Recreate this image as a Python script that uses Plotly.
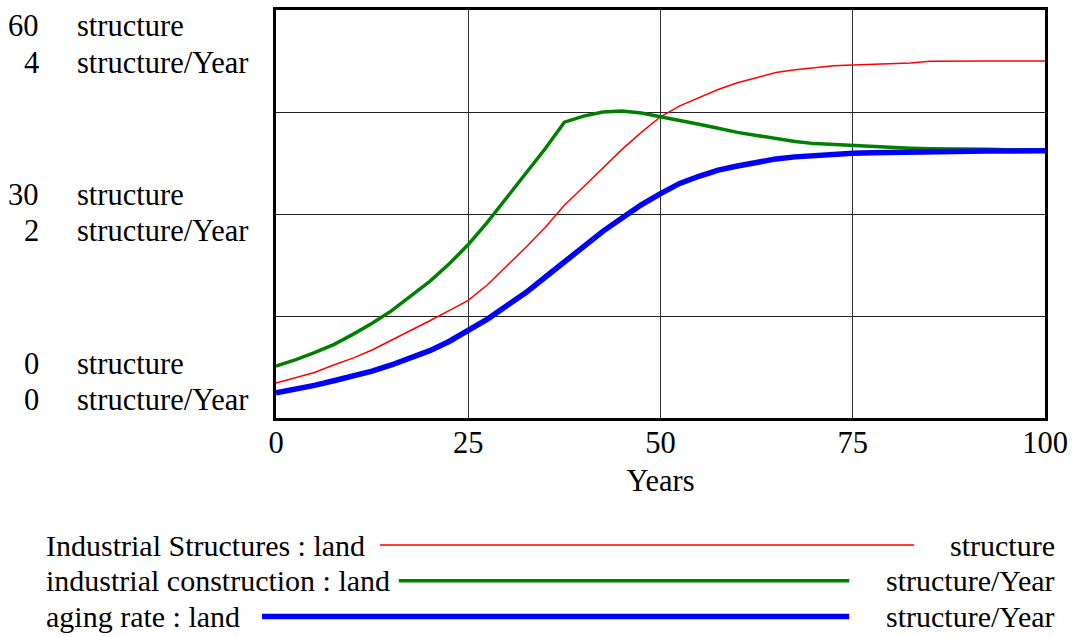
import plotly.graph_objects as go

years = [i * 2.5 for i in range(41)]

industrial_structures = [5.15, 5.9, 6.7, 7.8, 8.8, 10.0, 11.4, 12.8, 14.3, 15.8,
                         17.3, 19.6, 22.3, 25.1, 28.0, 31.3, 34.0, 36.8, 39.5, 42.0,
                         44.3, 45.9, 47.1, 48.3, 49.3, 50.1, 50.8, 51.2, 51.5, 51.8,
                         51.9, 52.0, 52.1, 52.2, 52.45, 52.5, 52.5, 52.5, 52.5, 52.5, 52.5]

industrial_construction = [0.51, 0.57, 0.64, 0.72, 0.82, 0.93, 1.05, 1.19, 1.34, 1.51,
                           1.70, 1.92, 2.16, 2.39, 2.64, 2.90, 2.96, 3.00, 3.01, 2.99,
                           2.955, 2.92, 2.88, 2.84, 2.80, 2.77, 2.74, 2.71, 2.69, 2.68,
                           2.67, 2.66, 2.65, 2.645, 2.64, 2.64, 2.635, 2.635, 2.63, 2.63, 2.63]

aging_rate = [0.246, 0.28, 0.32, 0.365, 0.41, 0.46, 0.52, 0.59, 0.66, 0.75,
              0.856, 0.97, 1.10, 1.23, 1.38, 1.53, 1.68, 1.83, 1.96, 2.09,
              2.20, 2.30, 2.37, 2.43, 2.47, 2.51, 2.54, 2.56, 2.575, 2.585,
              2.595, 2.60, 2.605, 2.607, 2.61, 2.612, 2.615, 2.617, 2.618, 2.619, 2.62]

x_ticks = [0, 25, 50, 75, 100]
left_labels = [("60", "structure"), ("4", "structure/Year"),
               ("30", "structure"), ("2", "structure/Year"),
               ("0", "structure"), ("0", "structure/Year")]
legend_names = ["Industrial Structures : land", "industrial construction : land", "aging rate : land"]
legend_units = ["structure", "structure/Year", "structure/Year"]

FONT = "Liberation Serif"
FS = 30.5
FS_LEG = 30
W, H = 1075, 637
L, R, T, B = 276, 1046, 7, 418
PW, PH = R - L, B - T

def px_x(p):
    return (p - L) / PW

def px_y(p):
    return (B - p) / PH

fig = go.Figure()
fig.add_trace(go.Scatter(x=years, y=industrial_structures, mode="lines",
                         line=dict(color="#ff0000", width=1.5), yaxis="y", showlegend=False))
fig.add_trace(go.Scatter(x=years, y=industrial_construction, mode="lines",
                         line=dict(color="#008000", width=3.5), yaxis="y2", showlegend=False))
fig.add_trace(go.Scatter(x=years, y=aging_rate, mode="lines",
                         line=dict(color="#0000ff", width=5.5), yaxis="y2", showlegend=False))

fig.update_layout(
    width=W, height=H,
    margin=dict(l=L, r=W - R, t=T, b=H - B),
    paper_bgcolor="white", plot_bgcolor="white",
    font=dict(family=FONT, size=FS, color="black"),
    hovermode=False,
    xaxis=dict(range=[0, 100], tickvals=x_ticks, ticktext=[str(v) for v in x_ticks],
               showgrid=True, gridcolor="#333333", gridwidth=1,
               showline=True, linecolor="black", linewidth=3, mirror=True,
               ticks="", zeroline=False, ticklabelstandoff=-5,
               ticklabeloverflow="allow",
               tickfont=dict(family=FONT, size=FS),
               title=dict(text="Years", font=dict(family=FONT, size=FS), standoff=12)),
    yaxis=dict(range=[0, 60], tickvals=[0, 15, 30, 45, 60], showticklabels=False,
               showgrid=True, gridcolor="#222222", gridwidth=1,
               showline=True, linecolor="black", linewidth=3, mirror=True,
               ticks="", zeroline=False),
    yaxis2=dict(range=[0, 4], overlaying="y", showticklabels=False, showgrid=False,
                zeroline=False, ticks=""),
)

annotations = []
label_y_px = [23, 60, 193, 230, 364, 400]
for (num, unit), ypx in zip(left_labels, label_y_px):
    annotations.append(dict(xref="paper", yref="paper", x=px_x(41), y=px_y(ypx),
                            text=num, showarrow=False, xanchor="right", yanchor="middle",
                            font=dict(family=FONT, size=FS)))
    annotations.append(dict(xref="paper", yref="paper", x=px_x(75), y=px_y(ypx),
                            text=unit, showarrow=False, xanchor="left", yanchor="middle",
                            font=dict(family=FONT, size=FS)))

legend_y_px = [546, 582, 618]
legend_line_y_px = [546, 582, 618]
legend_colors = ["#ff0000", "#008000", "#0000ff"]
legend_widths = [1.5, 3.5, 5.5]
legend_line_x = [(380, 915), (399, 850), (262, 850)]
shapes = []
for name, unit, ypx, lyp, col, lw, (x0, x1) in zip(legend_names, legend_units, legend_y_px,
                                                    legend_line_y_px, legend_colors,
                                                    legend_widths, legend_line_x):
    annotations.append(dict(xref="paper", yref="paper", x=px_x(44), y=px_y(ypx),
                            text=name, showarrow=False, xanchor="left", yanchor="middle",
                            font=dict(family=FONT, size=FS_LEG)))
    annotations.append(dict(xref="paper", yref="paper", x=px_x(1058), y=px_y(ypx),
                            text=unit, showarrow=False, xanchor="right", yanchor="middle",
                            font=dict(family=FONT, size=FS_LEG)))
    shapes.append(dict(type="line", xref="paper", yref="paper",
                       x0=px_x(x0), x1=px_x(x1), y0=px_y(lyp), y1=px_y(lyp),
                       line=dict(color=col, width=lw)))

fig.update_layout(annotations=annotations, shapes=shapes)
fig.write_html("out.html", config={"displayModeBar": False, "staticPlot": True},
               post_script="document.body.style.margin='0';document.body.style.overflow='hidden';")
